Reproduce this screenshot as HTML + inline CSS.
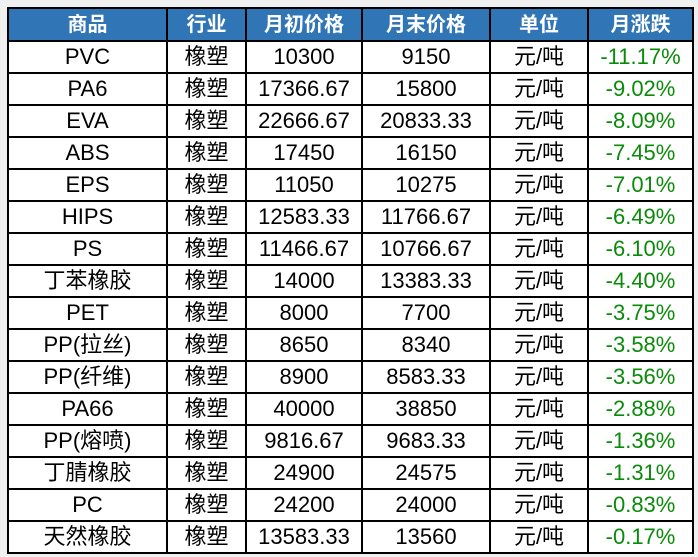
<!DOCTYPE html><html><head><meta charset="utf-8"><style>
body{margin:0;background:#f0f0f0;width:698px;height:557px;overflow:hidden}
table{position:absolute;left:7px;top:7px;border-collapse:collapse;background:#fff;font-family:"Liberation Sans","Noto Sans CJK SC",sans-serif;table-layout:fixed}
td,th{border:2px solid #000;text-align:center;padding:0;height:30px;font-size:22px;color:#000;line-height:30px;white-space:nowrap}
th{background:#3075b5;color:#fff;font-weight:bold;font-size:20px;height:31px}
td:last-child{color:#0a8a0a}
</style></head><body>
<table>
<colgroup><col style="width:159px"><col style="width:79px"><col style="width:116px"><col style="width:128px"><col style="width:98px"><col style="width:105px"></colgroup>
<tr><th>商品</th><th>行业</th><th>月初价格</th><th>月末价格</th><th>单位</th><th>月涨跌</th></tr>
<tr><td>PVC</td><td>橡塑</td><td>10300</td><td>9150</td><td>元/吨</td><td>-11.17%</td></tr>
<tr><td>PA6</td><td>橡塑</td><td>17366.67</td><td>15800</td><td>元/吨</td><td>-9.02%</td></tr>
<tr><td>EVA</td><td>橡塑</td><td>22666.67</td><td>20833.33</td><td>元/吨</td><td>-8.09%</td></tr>
<tr><td>ABS</td><td>橡塑</td><td>17450</td><td>16150</td><td>元/吨</td><td>-7.45%</td></tr>
<tr><td>EPS</td><td>橡塑</td><td>11050</td><td>10275</td><td>元/吨</td><td>-7.01%</td></tr>
<tr><td>HIPS</td><td>橡塑</td><td>12583.33</td><td>11766.67</td><td>元/吨</td><td>-6.49%</td></tr>
<tr><td>PS</td><td>橡塑</td><td>11466.67</td><td>10766.67</td><td>元/吨</td><td>-6.10%</td></tr>
<tr><td>丁苯橡胶</td><td>橡塑</td><td>14000</td><td>13383.33</td><td>元/吨</td><td>-4.40%</td></tr>
<tr><td>PET</td><td>橡塑</td><td>8000</td><td>7700</td><td>元/吨</td><td>-3.75%</td></tr>
<tr><td>PP(拉丝)</td><td>橡塑</td><td>8650</td><td>8340</td><td>元/吨</td><td>-3.58%</td></tr>
<tr><td>PP(纤维)</td><td>橡塑</td><td>8900</td><td>8583.33</td><td>元/吨</td><td>-3.56%</td></tr>
<tr><td>PA66</td><td>橡塑</td><td>40000</td><td>38850</td><td>元/吨</td><td>-2.88%</td></tr>
<tr><td>PP(熔喷)</td><td>橡塑</td><td>9816.67</td><td>9683.33</td><td>元/吨</td><td>-1.36%</td></tr>
<tr><td>丁腈橡胶</td><td>橡塑</td><td>24900</td><td>24575</td><td>元/吨</td><td>-1.31%</td></tr>
<tr><td>PC</td><td>橡塑</td><td>24200</td><td>24000</td><td>元/吨</td><td>-0.83%</td></tr>
<tr><td>天然橡胶</td><td>橡塑</td><td>13583.33</td><td>13560</td><td>元/吨</td><td>-0.17%</td></tr>
</table></body></html>
